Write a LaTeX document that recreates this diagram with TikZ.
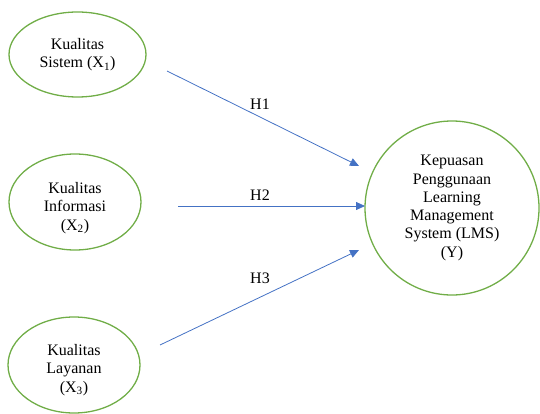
\documentclass[tikz,border=0pt]{standalone}
\usepackage{fontspec}
\setmainfont{Liberation Serif}
\usetikzlibrary{arrows.meta,shapes.geometric}
\definecolor{ogreen}{HTML}{70AD47}
\definecolor{oblue}{HTML}{4472C4}
\begin{document}
\begin{tikzpicture}[x=1pt,y=-1pt,
  var/.style={draw=ogreen,line width=1.3pt,ellipse,inner sep=0pt,align=center,
    font=\fontsize{16}{18.3}\selectfont},
  txt/.style={align=center,inner sep=0pt,font=\fontsize{16}{18.3}\selectfont},
  link/.style={draw=oblue,line width=0.8pt,-{Triangle[length=9pt,width=8pt]}},
  lab/.style={font=\fontsize{16}{18.3}\selectfont,inner sep=0pt}]
\useasboundingbox (0,0) rectangle (540,414);
\node[var,minimum width=137pt,minimum height=85pt] (x1) at (77.5,54.5) {Kualitas\\Sistem (X\textsubscript{1})};
\node[var,minimum width=132pt,minimum height=96pt] (x2) at (75,202) {};
\node[txt] (t2) at (75,208) {Kualitas\\Informasi\\(X\textsubscript{2})};
\node[var,minimum width=132pt,minimum height=96pt] (x3) at (74,365) {};
\node[txt] (t3) at (74,370) {Kualitas\\Layanan\\(X\textsubscript{3})};
\node[var,circle,minimum size=174pt] (y) at (452,208) {Kepuasan\\Penggunaan\\Learning\\Management\\System (LMS)\\(Y)};
\coordinate (s1) at (167,71);
\coordinate (e1) at (359,166);
\coordinate (s2) at (178,206);
\coordinate (e2) at (365,206);
\coordinate (s3) at (160,345);
\coordinate (e3) at (359,250);
\draw[link] (s1) -- (e1);
\draw[link] (s2) -- (e2);
\draw[link] (s3) -- (e3);
\node[lab] (h1) at (260,104) {H1};
\node[lab] (h2) at (260,195) {H2};
\node[lab] (h3) at (260,278) {H3};
\end{tikzpicture}
\end{document}
